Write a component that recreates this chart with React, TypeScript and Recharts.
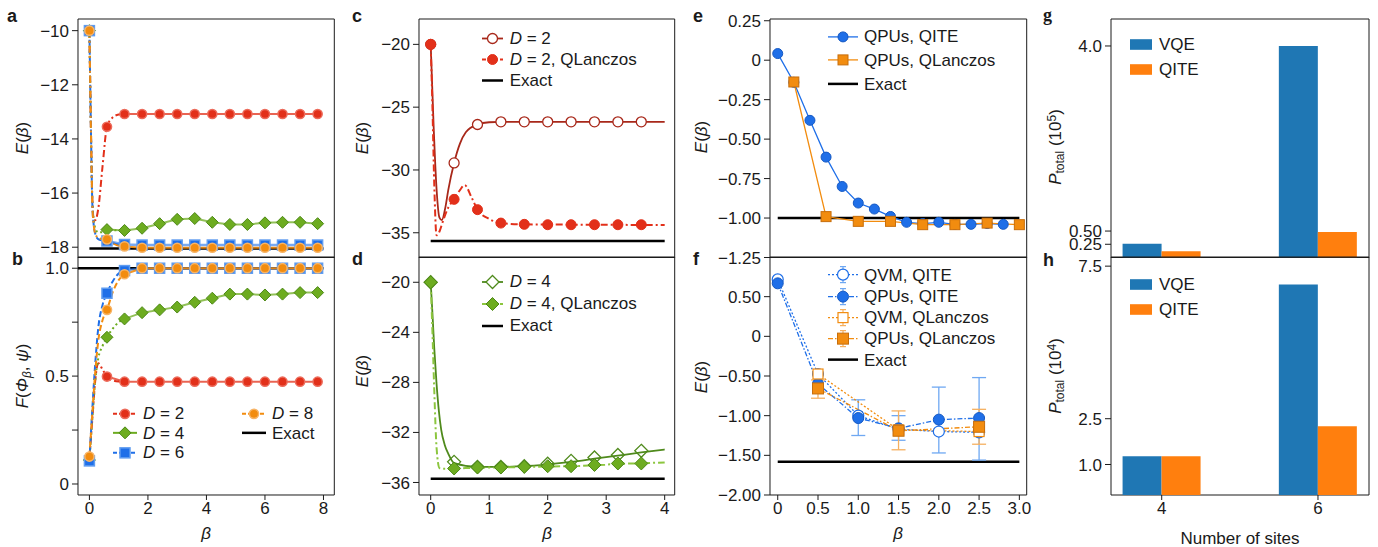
import React from 'react';
import { LineChart, Line, BarChart, Bar, XAxis, YAxis, ReferenceArea, Legend, ErrorBar } from 'recharts';

const FONT = '"Liberation Sans", Arial, Helvetica, sans-serif';
const FS = 17;
const INK = '#1a1a1a';

// ---------- a / b : energy and fidelity vs beta ----------
const betaAB = [0, 0.6, 1.2, 1.8, 2.4, 3.0, 3.6, 4.2, 4.8, 5.4, 6.0, 6.6, 7.2, 7.8];
const energyD2 = [-10, -13.55, -13.08, -13.08, -13.08, -13.08, -13.08, -13.08, -13.08, -13.08, -13.08, -13.08, -13.08, -13.08];
const energyD4 = [-10, -17.35, -17.38, -17.3, -17.13, -16.97, -16.94, -17.08, -17.16, -17.16, -17.1, -17.08, -17.08, -17.13];
const energyD6 = [-10, -17.77, -17.9, -17.92, -17.92, -17.92, -17.92, -17.92, -17.92, -17.92, -17.92, -17.92, -17.92, -17.92];
const energyD8 = [-10, -17.71, -17.97, -18.02, -18.02, -18.02, -18.02, -18.02, -18.02, -18.02, -18.02, -18.02, -18.02, -18.02];
const energyExactA = -18.05;

// early part of the fine curves
const transA = [0, 0.05, 0.1, 0.15, 0.2, 0.3, 0.45, 0.6, 0.8, 1.0, 1.2];
const transED2 = [-10, -13.5, -16.2, -17.0, -17.0, -16.6, -15.0, -13.55, -13.2, -13.1, -13.08];
const transED4 = [-10, -13.5, -16.3, -17.0, -17.3, -17.45, -17.45, -17.35, -17.37, -17.38, -17.38];
const transED6 = [-10, -13.5, -16.4, -17.2, -17.5, -17.7, -17.75, -17.77, -17.85, -17.9, -17.9];
const transED8 = [-10, -13.5, -16.4, -17.2, -17.5, -17.65, -17.7, -17.71, -17.85, -17.95, -17.97];

const fidD2 = [0.12, 0.498, 0.474, 0.474, 0.474, 0.474, 0.474, 0.474, 0.474, 0.474, 0.474, 0.474, 0.474, 0.474];
const fidD4 = [0.111, 0.68, 0.765, 0.794, 0.807, 0.82, 0.842, 0.861, 0.88, 0.88, 0.876, 0.88, 0.887, 0.887];
const fidD6 = [0.107, 0.884, 0.989, 1.0, 1.0, 1.0, 1.0, 1.0, 1.0, 1.0, 1.0, 1.0, 1.0, 1.0];
const fidD8 = [0.127, 0.807, 0.972, 1.0, 1.0, 1.0, 1.0, 1.0, 1.0, 1.0, 1.0, 1.0, 1.0, 1.0];
const fidExact = 1.0;

const transB = [0, 0.1, 0.2, 0.3, 0.45, 0.6, 0.8, 1.0, 1.2];
const transFD2 = [0.12, 0.3, 0.48, 0.56, 0.53, 0.498, 0.48, 0.475, 0.474];
const transFD4 = [0.111, 0.3, 0.48, 0.58, 0.64, 0.68, 0.72, 0.75, 0.765];
const transFD6 = [0.107, 0.35, 0.56, 0.72, 0.83, 0.884, 0.94, 0.975, 0.989];
const transFD8 = [0.127, 0.33, 0.52, 0.66, 0.76, 0.807, 0.89, 0.945, 0.972];

// ---------- c / d : QLanczos ----------
const betaCD = [0, 0.4, 0.8, 1.2, 1.6, 2.0, 2.4, 2.8, 3.2, 3.6];
const cD2 = [-20, -29.44, -26.38, -26.17, -26.17, -26.17, -26.17, -26.17, -26.17, -26.17];
const cD2Q = [-20, -32.34, -33.16, -34.23, -34.33, -34.36, -34.36, -34.36, -34.36, -34.36];
const cCurveX = [0, 0.05, 0.1, 0.15, 0.19, 0.25, 0.3, 0.4, 0.5, 0.6, 0.8, 1.0, 1.2, 4.0];
const cCurveY = [-20, -26.5, -31.5, -33.8, -34.0, -33.0, -31.6, -29.44, -27.9, -27.0, -26.38, -26.2, -26.17, -26.17];
const cCurveQX = [0, 0.03, 0.06, 0.1, 0.15, 0.2, 0.3, 0.4, 0.5, 0.58, 0.7, 0.8, 1.0, 1.2, 1.6, 4.0];
const cCurveQY = [-20, -25, -31, -35.2, -34.9, -34.2, -33.0, -32.34, -31.6, -31.2, -32.2, -33.16, -33.9, -34.23, -34.33, -34.38];
const cExact = -35.65;

const dD4 = [-20, -34.35, -34.75, -34.75, -34.7, -34.5, -34.27, -34.0, -33.8, -33.47];
const dD4Q = [-20, -34.88, -34.8, -34.8, -34.75, -34.7, -34.7, -34.6, -34.48, -34.48];
const dCurveX = [0, 0.03, 0.06, 0.1, 0.14, 0.18, 0.24, 0.3, 0.4, 0.8, 1.2, 1.6, 2.0, 2.4, 2.8, 3.2, 3.6, 4.0];
const dCurveY = [-20, -22.5, -25.2, -28.1, -30.3, -31.8, -33.0, -33.7, -34.45, -34.75, -34.75, -34.7, -34.55, -34.35, -34.1, -33.85, -33.6, -33.36];
const dCurveQX = [0, 0.03, 0.06, 0.1, 0.15, 0.2, 0.4, 0.8, 1.2, 1.6, 2.0, 2.4, 2.8, 3.2, 3.6, 4.0];
const dCurveQY = [-20, -24, -28.5, -33.2, -34.85, -34.9, -34.88, -34.82, -34.8, -34.76, -34.72, -34.7, -34.62, -34.52, -34.46, -34.4];
const dExact = -35.7;

// ---------- e / f : QPU runs ----------
const eBetaQITE = [0, 0.2, 0.4, 0.6, 0.8, 1.0, 1.2, 1.4, 1.6, 1.8, 2.0, 2.2, 2.4, 2.6, 2.8];
const eQITE = [0.042, -0.14, -0.381, -0.614, -0.8, -0.905, -0.943, -0.99, -1.027, -1.035, -1.027, -1.04, -1.04, -1.035, -1.04];
const eBetaQL = [0.2, 0.6, 1.0, 1.4, 1.8, 2.2, 2.6, 3.0];
const eQL = [-0.138, -0.991, -1.021, -1.021, -1.042, -1.042, -1.032, -1.042];
const eExact = -1.0;

const fBeta = [0, 0.5, 1.0, 1.5, 2.0, 2.5];
const fQvmQite = [0.718, -0.475, -1.0, -1.17, -1.2, -1.21];
const fQpuQite = [0.668, -0.6, -1.03, -1.16, -1.05, -1.03];
const fQpuQiteLo = [null, null, -1.25, -1.31, -1.47, -1.56];
const fQpuQiteHi = [null, null, -0.8, -1.0, -0.64, -0.52];
const fBetaQL = [0.5, 1.5, 2.5];
const fQvmQL = [-0.475, -1.18, -1.2];
const fQpuQL = [-0.657, -1.19, -1.14];
const fQpuQLLo = [-0.78, -1.43, -1.36];
const fQpuQLHi = [-0.55, -0.94, -0.92];
const fExact = -1.58;

// ---------- g / h : total measurements ----------
const sites = [4, 6];
const gVQE = [0.26, 4.0];
const gQITE = [0.12, 0.48];
const hVQE = [1.27, 6.9];
const hQITE = [1.27, 2.25];

// colours
const RED = '#e2301a', RED_EDGE = '#ec6c5c';
const GREEN = '#6dac20', GREEN_EDGE = '#4c8816';
const BLUE = '#1f6fe8', BLUE_EDGE = '#5f9cf0';
const ORANGE = '#f28c0f', ORANGE_EDGE = '#f7b466';
const E_BLUE_EDGE = '#1558c2', E_ORANGE_EDGE = '#c76e0c';
const DARKRED = '#a8281a';
const DARKGREEN = '#4f8a1c';
const LIGHTGREEN = '#8cc63f';
const BAR_BLUE = '#1f77b4', BAR_ORANGE = '#ff7f0e';
const DASHDOT = '7 3 2 3';

// helpers
const pts = (xs: number[], ys: number[]) => xs.map((x, i) => ({ x, y: ys[i] }));
const flat = (x0: number, x1: number, y: number) => pts([x0, x1], [y, y]);
const from = (xs: number[], ys: number[], x0: number) => pts(xs, ys).filter((p) => p.x >= x0);
const withErr = (xs: number[], ys: number[], lo: (number | null)[], hi: (number | null)[]) =>
    xs.map((x, i) => ({
        x,
        y: ys[i],
        err: lo[i] == null ? undefined : [ys[i] - (lo[i] as number), (hi[i] as number) - ys[i]],
    }));
const minus = (s: string) => s.replace('-', '\u2212');

const circleDot = (r: number, fill: string, stroke: string, sw = 1) => (p: any) => (
    <circle key={`c${p.index}`} cx={p.cx} cy={p.cy} r={r} fill={fill} stroke={stroke} strokeWidth={sw} />
);
const squareDot = (h: number, fill: string, stroke: string, sw = 1) => (p: any) => (
    <rect key={`s${p.index}`} x={p.cx - h} y={p.cy - h} width={2 * h} height={2 * h} fill={fill} stroke={stroke} strokeWidth={sw} />
);
const diamondDot = (h: number, fill: string, stroke: string, sw = 1) => (p: any) => (
    <polygon
        key={`d${p.index}`}
        points={`${p.cx},${p.cy - h} ${p.cx + h},${p.cy} ${p.cx},${p.cy + h} ${p.cx - h},${p.cy}`}
        fill={fill}
        stroke={stroke}
        strokeWidth={sw}
    />
);

// plot rectangle in page pixels; top-row panels use a mirrored x axis (ticks inside)
type Geo = { L: number; T: number; R: number; B: number; yW: number; xH: number; top?: boolean };
const MT = 8;
const MR = 8;
const box = (g: Geo) => ({
    style: { position: 'absolute' as const, left: g.L - g.yW, top: g.T - MT },
    width: g.R - g.L + g.yW + MR,
    height: g.B - g.T + MT + g.xH,
    margin: { top: MT, right: MR, left: 0, bottom: g.top ? g.xH : 0 },
});
const at = (g: Geo, x: number, y: number) => ({ left: x - (g.L - g.yW), top: y - (g.T - MT) });

const GA: Geo = { L: 78, T: 18.5, R: 334.3, B: 257, yW: 78, xH: 12, top: true };
const GB: Geo = { L: 78, T: 257, R: 334.3, B: 495, yW: 78, xH: 30 };
const GC: Geo = { L: 419.3, T: 18.5, R: 675, B: 257, yW: 80, xH: 12, top: true };
const GD: Geo = { L: 419.3, T: 257, R: 675, B: 495, yW: 80, xH: 30 };
const GE: Geo = { L: 770, T: 18.5, R: 1026.7, B: 257, yW: 82, xH: 12, top: true };
const GF: Geo = { L: 770, T: 257, R: 1026.7, B: 495, yW: 82, xH: 30 };
const GG: Geo = { L: 1111, T: 18.5, R: 1369, B: 257, yW: 72, xH: 12 };
const GH: Geo = { L: 1111, T: 257, R: 1369, B: 495, yW: 72, xH: 30 };

const tickText = { fontSize: FS, fontFamily: FONT, fill: INK };
const xBase = {
    type: 'number' as const,
    dataKey: 'x',
    allowDataOverflow: true,
    axisLine: false,
    tickLine: { stroke: INK },
    tickSize: 5,
    tickMargin: 2,
    interval: 0 as const,
};
const xTop = { ...xBase, mirror: true, tick: false as const, tickSize: 6 };
const yBase = {
    type: 'number' as const,
    allowDataOverflow: true,
    axisLine: false,
    tickLine: { stroke: INK },
    tickSize: 6,
    tickMargin: 3,
    interval: 0 as const,
    tick: tickText,
};

const frame = (dx: number[], dy: number[]) => (
    <ReferenceArea x1={dx[0]} x2={dx[1]} y1={dy[0]} y2={dy[1]} fill="none" stroke={INK} strokeWidth={1} ifOverflow="visible" />
);

type LegItem = { label: React.ReactNode; sample: (w: number, h: number) => React.ReactNode };
const legendBlock = (cols: LegItem[][], sw: number, rowH: number, gap: number, colW?: number) => () => (
    <div style={{ display: 'flex', fontFamily: FONT, fontSize: FS, color: INK }}>
        {cols.map((col, ci) => (
            <div key={ci} style={{ width: colW, flex: 'none' }}>
                {col.map((it, i) => (
                    <div key={i} style={{ display: 'flex', alignItems: 'center', height: rowH }}>
                        <svg width={sw} height={rowH} style={{ flex: 'none', overflow: 'visible' }}>
                            {it.sample(sw, rowH)}
                        </svg>
                        <span style={{ marginLeft: gap, whiteSpace: 'nowrap', lineHeight: 1 }}>{it.label}</span>
                    </div>
                ))}
            </div>
        ))}
    </div>
);
const lineSample = (stroke: string, dash?: string, sw = 2, marker?: (p: any) => React.ReactNode, err?: string) => (w: number, h: number) => (
    <g>
        <line x1={0} x2={w} y1={h / 2} y2={h / 2} stroke={stroke} strokeWidth={sw} strokeDasharray={dash} />
        {err && (
            <g stroke={err} strokeWidth={1.2}>
                <line x1={w / 2} x2={w / 2} y1={h / 2 - 8} y2={h / 2 + 8} />
                <line x1={w / 2 - 3} x2={w / 2 + 3} y1={h / 2 - 8} y2={h / 2 - 8} />
                <line x1={w / 2 - 3} x2={w / 2 + 3} y1={h / 2 + 8} y2={h / 2 + 8} />
            </g>
        )}
        {marker && marker({ cx: w / 2, cy: h / 2, index: 0 })}
    </g>
);
const patchSample = (fill: string) => (w: number, h: number) => <rect x={0} y={h / 2 - 5.3} width={w} height={10.6} fill={fill} />;
const legendWrap = (g: Geo, x: number, y: number) => ({ ...at(g, x, y), width: 'auto', height: 'auto', lineHeight: 'normal' });

const E_LABEL = (
    <>
        <i>E</i>(<i>β</i>)
    </>
);

// ---------- panels ----------
const dxAB = [-0.39, 8.37];
const dyA = [-18.38, -9.57];
const dyB = [-0.051, 1.052];

const redDot = circleDot(4.6, RED, RED_EDGE, 1.5);
const greenDot = diamondDot(6, GREEN, GREEN_EDGE);
const blueDot = squareDot(5, BLUE, BLUE_EDGE, 1.5);
const orangeDot = circleDot(4.6, ORANGE, ORANGE_EDGE, 1.5);

function PanelA() {
    const b = box(GA);
    return (
        <div style={b.style}>
            <LineChart width={b.width} height={b.height} margin={b.margin}>
                <XAxis {...xTop} domain={dxAB} ticks={[0, 2, 4, 6, 8]} height={GA.xH} />
                <YAxis {...yBase} domain={dyA} ticks={[-18, -16, -14, -12, -10]} tickFormatter={(v) => minus(String(v))} width={GA.yW} />
                <Line data={flat(0, 8, energyExactA)} dataKey="y" stroke="#000" strokeWidth={2.5} dot={false} isAnimationActive={false} />
                <Line data={pts(transA, transED2)} type="monotone" dataKey="y" stroke={RED} strokeWidth={2} strokeDasharray={DASHDOT} dot={false} isAnimationActive={false} />
                <Line data={pts(transA, transED4)} type="monotone" dataKey="y" stroke={GREEN} strokeWidth={2} strokeDasharray="2 3" dot={false} isAnimationActive={false} />
                <Line data={pts(transA, transED6)} type="monotone" dataKey="y" stroke={BLUE} strokeWidth={2} strokeDasharray="6 3" dot={false} isAnimationActive={false} />
                <Line data={pts(transA, transED8)} type="monotone" dataKey="y" stroke={ORANGE} strokeWidth={2} strokeDasharray={DASHDOT} dot={false} isAnimationActive={false} />
                <Line data={from(betaAB, energyD2, 1.2)} dataKey="y" stroke={RED} strokeOpacity={0.75} strokeWidth={2} dot={redDot} isAnimationActive={false} />
                <Line data={from(betaAB, energyD4, 0.6)} dataKey="y" stroke={GREEN} strokeOpacity={0.75} strokeWidth={2} dot={greenDot} isAnimationActive={false} />
                <Line data={from(betaAB, energyD6, 0.6)} dataKey="y" stroke={BLUE} strokeOpacity={0.6} strokeWidth={2.5} dot={blueDot} isAnimationActive={false} />
                <Line data={from(betaAB, energyD8, 1.2)} dataKey="y" stroke={ORANGE} strokeOpacity={0.9} strokeWidth={2} dot={orangeDot} isAnimationActive={false} />
                <Line data={pts(betaAB, energyD2).slice(0, 2)} dataKey="y" stroke="none" dot={redDot} isAnimationActive={false} />
                <Line data={pts(betaAB, energyD4).slice(0, 1)} dataKey="y" stroke="none" dot={greenDot} isAnimationActive={false} />
                <Line data={pts(betaAB, energyD6).slice(0, 1)} dataKey="y" stroke="none" dot={blueDot} isAnimationActive={false} />
                <Line data={pts(betaAB, energyD8).slice(0, 2)} dataKey="y" stroke="none" dot={orangeDot} isAnimationActive={false} />
                {frame(dxAB, dyA)}
            </LineChart>
        </div>
    );
}

function PanelB() {
    const b = box(GB);
    const leg = legendBlock(
        [
            [
                { label: <><i>D</i> = 2</>, sample: lineSample(RED, '4 2', 2, redDot) },
                { label: <><i>D</i> = 4</>, sample: lineSample(GREEN, undefined, 2, greenDot) },
                { label: <><i>D</i> = 6</>, sample: lineSample(BLUE, '4 2', 2, blueDot) },
            ],
            [
                { label: <><i>D</i> = 8</>, sample: lineSample(ORANGE, '4 2', 2, orangeDot) },
                { label: 'Exact', sample: lineSample('#000', undefined, 2.5) },
            ],
        ],
        24,
        19.7,
        6,
        129,
    );
    return (
        <div style={b.style}>
            <LineChart width={b.width} height={b.height} margin={b.margin}>
                <XAxis {...xBase} domain={dxAB} ticks={[0, 2, 4, 6, 8]} tick={tickText} height={GB.xH} />
                <YAxis
                    {...yBase}
                    domain={dyB}
                    ticks={[0, 0.25, 0.5, 0.75, 1]}
                    tickFormatter={(v) => (v === 0 ? '0' : v === 0.5 ? '0.5' : v === 1 ? '1.0' : '')}
                    width={GB.yW}
                />
                <Line data={flat(dxAB[0], 8, fidExact)} dataKey="y" stroke="#000" strokeWidth={2.5} dot={false} isAnimationActive={false} />
                <Line data={pts(transB, transFD2)} type="monotone" dataKey="y" stroke={RED} strokeWidth={2} strokeDasharray={DASHDOT} dot={false} isAnimationActive={false} />
                <Line data={pts(transB, transFD4)} type="monotone" dataKey="y" stroke={GREEN} strokeWidth={2} strokeDasharray="2 3" dot={false} isAnimationActive={false} />
                <Line data={pts(transB, transFD6)} type="monotone" dataKey="y" stroke={BLUE} strokeWidth={2} strokeDasharray="6 3" dot={false} isAnimationActive={false} />
                <Line data={pts(transB, transFD8)} type="monotone" dataKey="y" stroke={ORANGE} strokeWidth={2} strokeDasharray="6 3" dot={false} isAnimationActive={false} />
                <Line data={from(betaAB, fidD2, 0.6)} dataKey="y" stroke={RED} strokeOpacity={0.75} strokeWidth={2} dot={redDot} isAnimationActive={false} />
                <Line data={from(betaAB, fidD4, 1.2)} dataKey="y" stroke={GREEN} strokeOpacity={0.75} strokeWidth={2} dot={greenDot} isAnimationActive={false} />
                <Line data={from(betaAB, fidD6, 1.2)} dataKey="y" stroke={BLUE} strokeOpacity={0.6} strokeWidth={2.5} dot={blueDot} isAnimationActive={false} />
                <Line data={from(betaAB, fidD8, 1.2)} dataKey="y" stroke={ORANGE} strokeOpacity={0.9} strokeWidth={2} dot={orangeDot} isAnimationActive={false} />
                <Line data={pts(betaAB, fidD2).slice(0, 1)} dataKey="y" stroke="none" dot={redDot} isAnimationActive={false} />
                <Line data={pts(betaAB, fidD4).slice(0, 2)} dataKey="y" stroke="none" dot={greenDot} isAnimationActive={false} />
                <Line data={pts(betaAB, fidD6).slice(0, 2)} dataKey="y" stroke="none" dot={blueDot} isAnimationActive={false} />
                <Line data={pts(betaAB, fidD8).slice(0, 2)} dataKey="y" stroke="none" dot={orangeDot} isAnimationActive={false} />
                {frame(dxAB, dyB)}
                <Legend layout="vertical" align="center" verticalAlign="middle" content={leg} wrapperStyle={legendWrap(GB, 113, 403.5)} />
            </LineChart>
        </div>
    );
}

const dxCD = [-0.2, 4.171];
const dyC = [-36.97, -17.98];
const dyD = [-37.0, -17.98];

function PanelC() {
    const b = box(GC);
    const leg = legendBlock(
        [
            [
                { label: <><i>D</i> = 2</>, sample: lineSample(DARKRED, undefined, 1.8, circleDot(5, '#fff', DARKRED, 1.3)) },
                { label: <><i>D</i> = 2, QLanczos</>, sample: lineSample(RED, '4 2', 2, circleDot(5, RED, RED)) },
                { label: 'Exact', sample: lineSample('#000', undefined, 2.5) },
            ],
        ],
        21,
        21,
        7,
    );
    return (
        <div style={b.style}>
            <LineChart width={b.width} height={b.height} margin={b.margin}>
                <XAxis {...xTop} domain={dxCD} ticks={[0, 1, 2, 3, 4]} height={GC.xH} />
                <YAxis {...yBase} domain={dyC} ticks={[-35, -30, -25, -20]} tickFormatter={(v) => minus(String(v))} width={GC.yW} />
                <Line data={flat(0, 4, cExact)} dataKey="y" stroke="#000" strokeWidth={2.5} dot={false} isAnimationActive={false} />
                <Line data={pts(cCurveX, cCurveY)} type="monotone" dataKey="y" stroke={DARKRED} strokeWidth={1.8} dot={false} isAnimationActive={false} />
                <Line data={pts(cCurveQX, cCurveQY)} type="monotone" dataKey="y" stroke={RED} strokeWidth={2} strokeDasharray={DASHDOT} dot={false} isAnimationActive={false} />
                <Line data={pts(betaCD, cD2)} dataKey="y" stroke="none" dot={circleDot(5, '#fff', DARKRED, 1.3)} isAnimationActive={false} />
                <Line data={pts(betaCD, cD2Q)} dataKey="y" stroke="none" dot={circleDot(5, RED, RED)} isAnimationActive={false} />
                {frame(dxCD, dyC)}
                <Legend layout="vertical" align="center" verticalAlign="middle" content={leg} wrapperStyle={legendWrap(GC, 481.7, 27.5)} />
            </LineChart>
        </div>
    );
}

function PanelD() {
    const b = box(GD);
    const leg = legendBlock(
        [
            [
                { label: <><i>D</i> = 4</>, sample: lineSample(DARKGREEN, undefined, 1.8, diamondDot(6.5, '#fff', DARKGREEN, 1.3)) },
                { label: <><i>D</i> = 4, QLanczos</>, sample: lineSample(LIGHTGREEN, '4 2', 2, diamondDot(6.5, GREEN, GREEN_EDGE)) },
                { label: 'Exact', sample: lineSample('#000', undefined, 2.5) },
            ],
        ],
        21,
        22,
        7,
    );
    return (
        <div style={b.style}>
            <LineChart width={b.width} height={b.height} margin={b.margin}>
                <XAxis {...xBase} domain={dxCD} ticks={[0, 1, 2, 3, 4]} tick={tickText} height={GD.xH} />
                <YAxis {...yBase} domain={dyD} ticks={[-36, -32, -28, -24, -20]} tickFormatter={(v) => minus(String(v))} width={GD.yW} />
                <Line data={flat(0, 4, dExact)} dataKey="y" stroke="#000" strokeWidth={2.5} dot={false} isAnimationActive={false} />
                <Line data={pts(dCurveX, dCurveY)} type="monotone" dataKey="y" stroke={DARKGREEN} strokeWidth={1.8} dot={false} isAnimationActive={false} />
                <Line data={pts(dCurveQX, dCurveQY)} type="monotone" dataKey="y" stroke={LIGHTGREEN} strokeWidth={2} strokeDasharray={DASHDOT} dot={false} isAnimationActive={false} />
                <Line data={pts(betaCD, dD4)} dataKey="y" stroke="none" dot={diamondDot(6.5, 'none', DARKGREEN, 1.3)} isAnimationActive={false} />
                <Line data={pts(betaCD, dD4Q)} dataKey="y" stroke="none" dot={diamondDot(6.5, GREEN, GREEN_EDGE)} isAnimationActive={false} />
                {frame(dxCD, dyD)}
                <Legend layout="vertical" align="center" verticalAlign="middle" content={leg} wrapperStyle={legendWrap(GD, 481.7, 270.7)} />
            </LineChart>
        </div>
    );
}

const dxEF = [-0.096, 3.091];
const dyE = [-1.25, 0.261];
const dyF = [-2.0, 1.0];
const fmt2 = (v: number) => (v === 0 ? '0' : minus(v.toFixed(2)));

function PanelE() {
    const b = box(GE);
    const leg = legendBlock(
        [
            [
                { label: 'QPUs, QITE', sample: lineSample(BLUE, undefined, 1.3, circleDot(5, BLUE, E_BLUE_EDGE)) },
                { label: 'QPUs, QLanczos', sample: lineSample(ORANGE, undefined, 1.3, squareDot(5, ORANGE, E_ORANGE_EDGE)) },
                { label: 'Exact', sample: lineSample('#000', undefined, 2.5) },
            ],
        ],
        30,
        23.8,
        6,
    );
    return (
        <div style={b.style}>
            <LineChart width={b.width} height={b.height} margin={b.margin}>
                <XAxis {...xTop} domain={dxEF} ticks={[0, 0.5, 1, 1.5, 2, 2.5, 3]} height={GE.xH} />
                <YAxis {...yBase} domain={dyE} ticks={[-1.25, -1, -0.75, -0.5, -0.25, 0, 0.25]} tickFormatter={fmt2} width={GE.yW} />
                <Line data={flat(0, 3, eExact)} dataKey="y" stroke="#000" strokeWidth={2.5} dot={false} isAnimationActive={false} />
                <Line data={pts(eBetaQITE, eQITE)} dataKey="y" stroke={BLUE} strokeWidth={1.3} dot={circleDot(5, BLUE, E_BLUE_EDGE)} isAnimationActive={false} />
                <Line data={pts(eBetaQL, eQL)} dataKey="y" stroke={ORANGE} strokeWidth={1.3} dot={squareDot(5, ORANGE, E_ORANGE_EDGE)} isAnimationActive={false} />
                {frame(dxEF, dyE)}
                <Legend layout="vertical" align="center" verticalAlign="middle" content={leg} wrapperStyle={legendWrap(GE, 828, 24.7)} />
            </LineChart>
        </div>
    );
}

const ERR_BLUE = '#6fa8f2';
const ERR_ORANGE = '#f5b060';

function PanelF() {
    const b = box(GF);
    const leg = legendBlock(
        [
            [
                { label: 'QVM, QITE', sample: lineSample(BLUE, '2 2', 1.3, circleDot(5.5, '#fff', BLUE, 1.2), ERR_BLUE) },
                { label: 'QPUs, QITE', sample: lineSample(BLUE, '5 2 1.5 2', 1.3, circleDot(5.5, BLUE, E_BLUE_EDGE), ERR_BLUE) },
                { label: 'QVM, QLanczos', sample: lineSample(ORANGE, '2 2', 1.3, squareDot(5, '#fff', ORANGE, 1.2), ERR_ORANGE) },
                { label: 'QPUs, QLanczos', sample: lineSample(ORANGE, '5 2 1.5 2', 1.3, squareDot(5.5, ORANGE, E_ORANGE_EDGE), ERR_ORANGE) },
                { label: 'Exact', sample: lineSample('#000', undefined, 2.5) },
            ],
        ],
        30,
        21.25,
        6,
    );
    return (
        <div style={b.style}>
            <LineChart width={b.width} height={b.height} margin={b.margin}>
                <XAxis
                    {...xBase}
                    domain={dxEF}
                    ticks={[0, 0.5, 1, 1.5, 2, 2.5, 3]}
                    tick={tickText}
                    tickFormatter={(v) => (v === 0 ? '0' : v.toFixed(1))}
                    height={GF.xH}
                />
                <YAxis {...yBase} domain={dyF} ticks={[-2, -1.5, -1, -0.5, 0, 0.5]} tickFormatter={fmt2} width={GF.yW} />
                <Line data={flat(0, 3, fExact)} dataKey="y" stroke="#000" strokeWidth={2.5} dot={false} isAnimationActive={false} />
                <Line data={pts(fBeta, fQvmQite)} dataKey="y" stroke={BLUE} strokeWidth={1.3} strokeDasharray="2 2" dot={circleDot(5.5, '#fff', BLUE, 1.2)} isAnimationActive={false} />
                <Line data={withErr(fBeta, fQpuQite, fQpuQiteLo, fQpuQiteHi)} dataKey="y" stroke={BLUE} strokeWidth={1.3} strokeDasharray="5 2 1.5 2" dot={circleDot(5.5, BLUE, E_BLUE_EDGE)} isAnimationActive={false}>
                    <ErrorBar dataKey="err" direction="y" stroke={ERR_BLUE} strokeWidth={1.3} width={7} />
                </Line>
                <Line data={pts(fBetaQL, fQvmQL)} dataKey="y" stroke={ORANGE} strokeWidth={1.3} strokeDasharray="2 2" dot={squareDot(5, '#fff', ORANGE, 1.2)} isAnimationActive={false} />
                <Line data={withErr(fBetaQL, fQpuQL, fQpuQLLo, fQpuQLHi)} dataKey="y" stroke={ORANGE} strokeWidth={1.3} strokeDasharray="5 2 1.5 2" dot={squareDot(5.5, ORANGE, E_ORANGE_EDGE)} isAnimationActive={false}>
                    <ErrorBar dataKey="err" direction="y" stroke={ERR_ORANGE} strokeWidth={1.3} width={7} />
                </Line>
                {frame(dxEF, dyF)}
                <Legend layout="vertical" align="center" verticalAlign="middle" content={leg} wrapperStyle={legendWrap(GF, 828, 264.4)} />
            </LineChart>
        </div>
    );
}

const dxGH = [3.351, 6.653];
const dyG = [0, 4.51];
const dyH = [0, 7.8];

function BarPanel({ g, vqe, qite, dy, yTicks, fmt, bottom, legY }: any) {
    const b = box(g);
    const data = sites.map((x, i) => ({ x, vqe: vqe[i], qite: qite[i] }));
    const leg = legendBlock(
        [
            [
                { label: 'VQE', sample: patchSample(BAR_BLUE) },
                { label: 'QITE', sample: patchSample(BAR_ORANGE) },
            ],
        ],
        22,
        25,
        7,
    );
    return (
        <div style={b.style}>
            <BarChart width={b.width} height={b.height} margin={b.margin} data={data} barGap={0} barSize={39}>
                <XAxis
                    {...xBase}
                    domain={dxGH}
                    ticks={sites}
                    tick={bottom ? tickText : false}
                    tickLine={bottom ? { stroke: INK } : false}
                    height={g.xH}
                />
                <YAxis {...yBase} domain={dy} ticks={yTicks} tickFormatter={fmt} width={g.yW} />
                <Bar dataKey="vqe" fill={BAR_BLUE} isAnimationActive={false} />
                <Bar dataKey="qite" fill={BAR_ORANGE} isAnimationActive={false} />
                {frame(dxGH, dy)}
                <Legend layout="vertical" align="center" verticalAlign="middle" content={leg} wrapperStyle={legendWrap(g, 1130, legY)} />
            </BarChart>
        </div>
    );
}

function VTitle({ cx, cy, children }: any) {
    return (
        <div
            style={{
                position: 'absolute',
                left: cx,
                top: cy,
                transform: 'translate(-50%, -50%) rotate(-90deg)',
                whiteSpace: 'nowrap',
                fontSize: FS,
                lineHeight: 1,
            }}
        >
            {children}
        </div>
    );
}
function HTitle({ cx, cy, children }: any) {
    return (
        <div style={{ position: 'absolute', left: cx, top: cy, transform: 'translate(-50%, -50%)', whiteSpace: 'nowrap', fontSize: FS, lineHeight: 1 }}>
            {children}
        </div>
    );
}
function Letter({ x, base, ch, serif }: any) {
    return (
        <div
            style={{
                position: 'absolute',
                left: x,
                top: base - 14.4,
                fontSize: 18,
                lineHeight: '17px',
                fontWeight: 'bold',
                fontFamily: serif ? '"Liberation Serif", serif' : FONT,
            }}
        >
            {ch}
        </div>
    );
}

const sub = { fontSize: 12, verticalAlign: '-0.25em' };
const sup = { fontSize: 12, verticalAlign: '0.45em' };

export default function App() {
    return (
        <div
            style={{
                position: 'absolute',
                left: 0,
                top: 0,
                width: 1378,
                height: 547,
                background: '#fff',
                fontFamily: FONT,
                color: INK,
                overflow: 'hidden',
            }}
        >
            <PanelA />
            <PanelB />
            <PanelC />
            <PanelD />
            <PanelE />
            <PanelF />
            <BarPanel g={GG} vqe={gVQE} qite={gQITE} dy={dyG} yTicks={[0.25, 0.5, 4]} fmt={(v: number) => (v === 4 ? '4.0' : v.toFixed(2))} bottom={false} legY={31.8} />
            <BarPanel g={GH} vqe={hVQE} qite={hQITE} dy={dyH} yTicks={[1, 2.5, 7.5]} fmt={(v: number) => v.toFixed(1)} bottom legY={271.8} />

            <VTitle cx={22} cy={138}>{E_LABEL}</VTitle>
            <VTitle cx={23} cy={376}>
                <i>F</i>(<i>Φ</i>
                <span style={sub}>
                    <i>β</i>
                </span>
                , <i>ψ</i>)
            </VTitle>
            <VTitle cx={362} cy={138}>{E_LABEL}</VTitle>
            <VTitle cx={362} cy={371}>{E_LABEL}</VTitle>
            <VTitle cx={701} cy={137}>{E_LABEL}</VTitle>
            <VTitle cx={701} cy={377}>{E_LABEL}</VTitle>
            <VTitle cx={1056} cy={147}>
                <i>P</i>
                <span style={sub}>total</span> (10<span style={sup}>5</span>)
            </VTitle>
            <VTitle cx={1056} cy={376}>
                <i>P</i>
                <span style={sub}>total</span> (10<span style={sup}>4</span>)
            </VTitle>

            <HTitle cx={206} cy={533}>
                <i>β</i>
            </HTitle>
            <HTitle cx={547} cy={533}>
                <i>β</i>
            </HTitle>
            <HTitle cx={898} cy={533}>
                <i>β</i>
            </HTitle>
            <HTitle cx={1240} cy={538}>Number of sites</HTitle>

            <Letter x={7} base={22} ch="a" />
            <Letter x={12} base={265} ch="b" />
            <Letter x={352} base={22} ch="c" />
            <Letter x={352} base={265} ch="d" />
            <Letter x={693} base={22} ch="e" />
            <Letter x={693} base={265} ch="f" />
            <Letter x={1043} base={21} ch="g" serif />
            <Letter x={1043} base={266} ch="h" />
        </div>
    );
}
